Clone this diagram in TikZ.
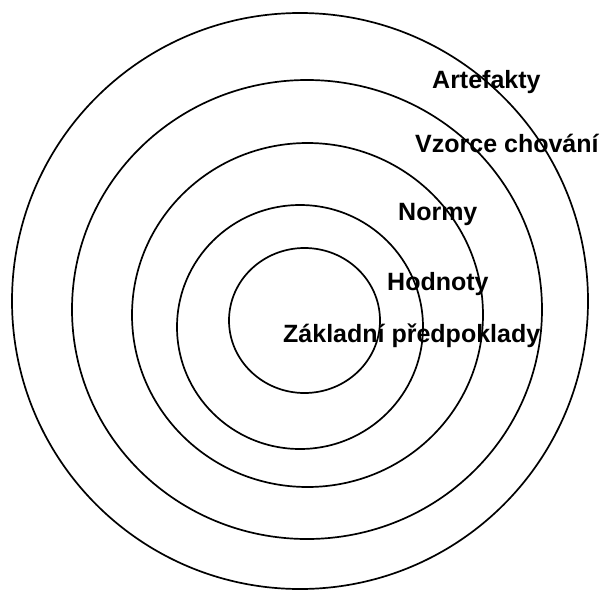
\documentclass[tikz,border=0pt]{standalone}
\usepackage{fontspec}
\setmainfont{Liberation Sans}
\begin{document}
\begin{tikzpicture}[x=1pt,y=-1pt,
  ring/.style={draw=black,line width=1.7pt},
  lbl/.style={anchor=base west,inner sep=0pt,font=\fontsize{25}{30}\selectfont\bfseries}]
\useasboundingbox (0,0) rectangle (603,590);
\draw[ring] (300,301) ellipse [x radius=288pt, y radius=288pt];
\draw[ring] (307,309.5) ellipse [x radius=235pt, y radius=229.5pt];
\draw[ring] (307.5,315) ellipse [x radius=175.5pt, y radius=172pt];
\draw[ring] (300,327) ellipse [x radius=123pt, y radius=122pt];
\draw[ring] (304.5,320.5) ellipse [x radius=75.5pt, y radius=72.5pt];
\node[lbl] (artefakty) at (432,88) {Artefakty};
\node[lbl] (vzorce) at (415,152) {Vzorce chování};
\node[lbl] (normy) at (398,220) {Normy};
\node[lbl] (hodnoty) at (387,290) {Hodnoty};
\node[lbl] (zaklad) at (283,342) {Základní předpoklady};
\end{tikzpicture}
\end{document}
